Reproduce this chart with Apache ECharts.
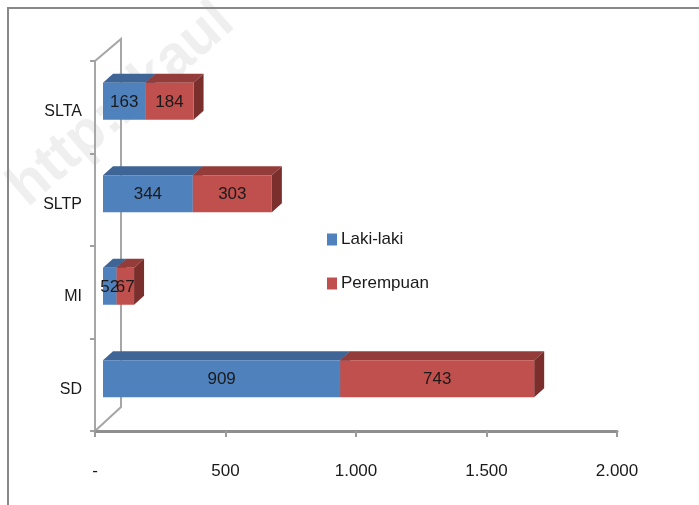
<!DOCTYPE html>
<html>
<head>
<meta charset="utf-8">
<script src="https://cdn.jsdelivr.net/npm/echarts@6/dist/echarts.min.js"></script>
<style>
  html, body { margin: 0; padding: 0; background: #ffffff; }
  #chart { width: 699px; height: 505px; }
</style>
</head>
<body>
<div id="chart"></div>
<script>
// Jumlah siswa menurut jenjang pendidikan dan jenis kelamin
const categories = ['SD', 'MI', 'SLTP', 'SLTA'];
const lakiLaki = [909, 52, 344, 163];
const perempuan = [743, 67, 303, 184];
const seriesNames = ['Laki-laki', 'Perempuan'];
const tickLabels = ['-', '500', '1.000', '1.500', '2.000'];

const FONT = "'Liberation Sans', Arial, sans-serif";

// plot area
const GRID = { left: 95, right: 82, top: 61, bottom: 74 };
const W = 699, H = 505;

// pseudo-3D box geometry (pixels)
const FRONT_DX = 8, FRONT_DY = -6;   // front face shift from the axis plane
const DEPTH_DX = 10, DEPTH_DY = -9;  // box depth
const WALL_DX = 26, WALL_DY = -22;   // back wall depth

const palette = {
  'Laki-laki': { front: '#4F81BD', top: '#3E6596', side: '#345780' },
  'Perempuan': { front: '#C0504D', top: '#933C3A', side: '#7A2F2D' }
};

// stacked ranges [categoryIndex, start, end, value]
function stackedRanges(values, base) {
  return values.map((v, i) => [i, base ? base[i] : 0, (base ? base[i] : 0) + v, v]);
}
const dataLaki = stackedRanges(lakiLaki, null);
const dataPerempuan = stackedRanges(perempuan, lakiLaki);

function makeRender(name) {
  const col = palette[name];
  return function (params, api) {
    const cat = api.value(0);
    const p0 = api.coord([api.value(1), cat]);
    const p1 = api.coord([api.value(2), cat]);
    const band = api.size([0, 1])[1];
    const h = band * 0.4;
    const x0 = p0[0] + FRONT_DX;
    const x1 = p1[0] + FRONT_DX;
    const yT = p0[1] + FRONT_DY - h / 2;
    const yB = yT + h;
    return {
      type: 'group',
      children: [
        {
          type: 'polygon',
          shape: { points: [[x0, yT], [x0 + DEPTH_DX, yT + DEPTH_DY], [x1 + DEPTH_DX, yT + DEPTH_DY], [x1, yT]] },
          style: { fill: col.top }
        },
        {
          type: 'polygon',
          shape: { points: [[x1, yT], [x1 + DEPTH_DX, yT + DEPTH_DY], [x1 + DEPTH_DX, yB + DEPTH_DY], [x1, yB]] },
          style: { fill: col.side }
        },
        {
          type: 'rect',
          shape: { x: x0, y: yT, width: x1 - x0, height: h },
          style: { fill: col.front }
        },
        {
          type: 'text',
          z2: 100,
          style: {
            text: String(api.value(3)),
            x: (x0 + x1) / 2,
            y: (yT + yB) / 2 + 1,
            align: 'center',
            verticalAlign: 'middle',
            fill: '#1a1a1a',
            font: '17px ' + FONT
          }
        }
      ]
    };
  };
}

const chart = echarts.init(document.getElementById('chart'), null, { renderer: 'canvas' });

const gL = GRID.left, gT = GRID.top, gB = H - GRID.bottom;

chart.setOption({
  animation: false,
  backgroundColor: '#ffffff',
  grid: { left: GRID.left, right: GRID.right, top: GRID.top, bottom: GRID.bottom, containLabel: false },
  legend: {
    orient: 'vertical',
    left: 322,
    top: 226,
    icon: 'rect',
    itemWidth: 10,
    itemHeight: 12,
    itemGap: 27,
    data: seriesNames,
    textStyle: { fontFamily: FONT, fontSize: 17, color: '#1a1a1a', padding: [0, 0, 0, -1] }
  },
  xAxis: {
    type: 'value',
    min: 0,
    max: 2000,
    interval: 500,
    axisLine: { show: true, lineStyle: { color: '#8f8f8f', width: 3 } },
    axisTick: { show: true, length: 6, lineStyle: { color: '#9a9a9a', width: 2 } },
    splitLine: { show: false },
    axisLabel: {
      margin: 32,
      fontFamily: FONT,
      fontSize: 17,
      color: '#1a1a1a',
      formatter: (v) => tickLabels[Math.round(v / 500)]
    }
  },
  yAxis: {
    type: 'category',
    data: categories,
    axisLine: { show: true, lineStyle: { color: '#a6a6a6', width: 2 } },
    axisTick: { show: true, length: 5, lineStyle: { color: '#a0a0a0', width: 2 } },
    axisLabel: {
      margin: 13,
      verticalAlign: 'top',
      lineHeight: 9,
      fontFamily: FONT,
      fontSize: 16,
      color: '#1a1a1a'
    }
  },
  graphic: [
    {
      type: 'text',
      silent: true,
      z: -10,
      x: -2,
      y: 174,
      rotation: 41 * Math.PI / 180,
      style: { text: 'http://kaul', font: 'bold 58px ' + FONT, fill: '#efefef' }
    },
    {
      type: 'rect',
      silent: true,
      shape: { x: 8, y: 8, width: 800, height: 600 },
      style: { fill: 'none', stroke: '#888888', lineWidth: 2 }
    },
    {
      type: 'polyline',
      silent: true,
      shape: { points: [[gL, gT], [gL + WALL_DX, gT + WALL_DY], [gL + WALL_DX, gB - 24], [gL, gB]] },
      style: { fill: 'none', stroke: '#a6a6a6', lineWidth: 2 }
    }
  ],
  series: [
    {
      name: seriesNames[0],
      type: 'custom',
      itemStyle: { color: palette['Laki-laki'].front },
      encode: { x: [1, 2], y: 0 },
      data: dataLaki,
      renderItem: makeRender('Laki-laki')
    },
    {
      name: seriesNames[1],
      type: 'custom',
      itemStyle: { color: palette['Perempuan'].front },
      encode: { x: [1, 2], y: 0 },
      data: dataPerempuan,
      renderItem: makeRender('Perempuan')
    }
  ]
});
</script>
</body>
</html>
